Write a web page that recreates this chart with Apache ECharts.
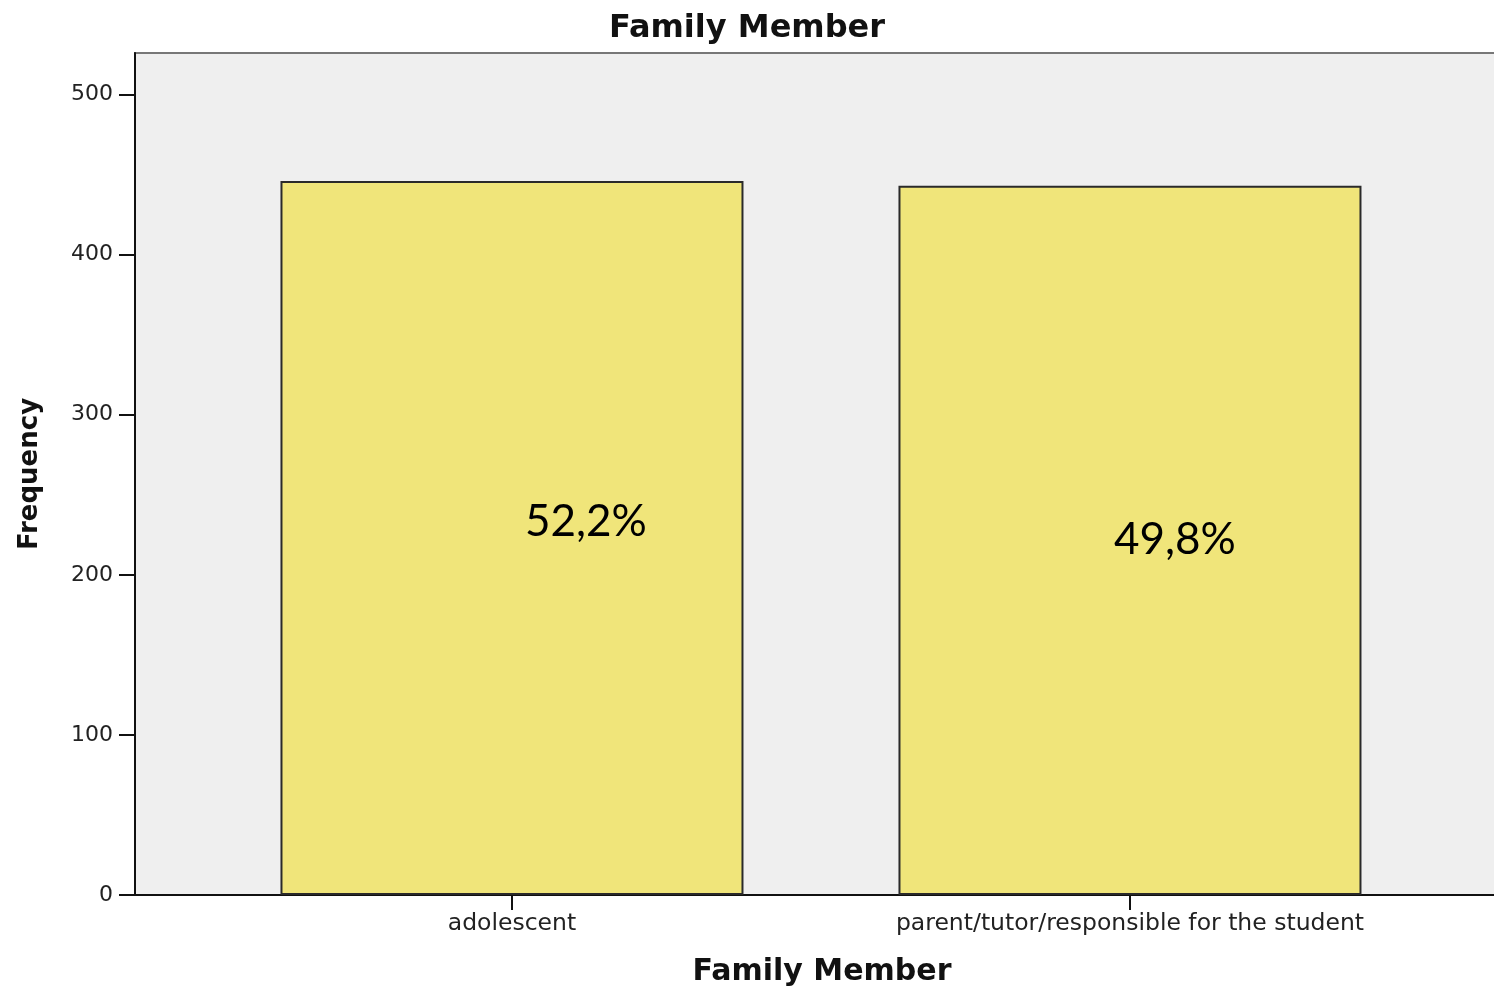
<!DOCTYPE html>
<html>
<head>
<meta charset="utf-8">
<script src="https://cdn.jsdelivr.net/npm/echarts@6/dist/echarts.min.js"></script>
<style>
  html, body { margin: 0; padding: 0; background: #fff; }
  #chart { width: 1494px; height: 989px; }
</style>
</head>
<body>
<div id="chart"></div>
<script>
// categories and counts
const categories = ['adolescent', 'parent/tutor/responsible for the student'];
const frequencies = [446, 443];
const percentLabels = ['52,2%', '49,8%'];
const yTicks = [0, 100, 200, 300, 400, 500];

// categories sit at x = 1, 2 on a value axis so the plot can start left of the first bar
const catPos = categories.map((c, i) => i + 1);
const labelOffsets = [[74, -16], [45, -1]];

const chart = echarts.init(document.getElementById('chart'));

const option = {
  backgroundColor: '#fff',
  animation: false,
  title: {
    text: 'Family Member',
    left: 'center',
    top: 8,
    textStyle: { fontFamily: 'DejaVu Sans', fontWeight: 'bold', fontSize: 32, color: '#111' }
  },
  grid: {
    left: 135,
    top: 53,
    width: 1400,
    bottom: 94,
    outerBoundsMode: 'none',
    containLabel: false,
    show: true,
    backgroundColor: '#efefef',
    borderColor: '#777',
    borderWidth: 2
  },
  xAxis: {
    type: 'value',
    min: 0.39,
    max: 0.39 + 1400 / 618,
    name: 'Family Member',
    nameLocation: 'middle',
    nameGap: 62,
    nameTextStyle: {
      fontFamily: 'DejaVu Sans', fontWeight: 'bold', fontSize: 30, color: '#111',
      padding: [0, 26, 0, 0]
    },
    splitLine: { show: false },
    axisLine: { show: true, lineStyle: { color: '#111', width: 2 } },
    axisTick: { show: true, customValues: catPos, length: 15, lineStyle: { color: '#111', width: 2 } },
    axisLabel: {
      customValues: catPos,
      margin: 17,
      fontFamily: 'DejaVu Sans',
      fontSize: 23.5,
      color: '#222',
      formatter: (v) => categories[Math.round(v) - 1] || ''
    }
  },
  yAxis: {
    type: 'value',
    min: 0,
    max: 526,
    name: 'Frequency',
    nameLocation: 'middle',
    nameGap: 92,
    nameTextStyle: { fontFamily: 'DejaVu Sans', fontWeight: 'bold', fontSize: 26, color: '#111' },
    splitLine: { show: false },
    axisLine: { show: true, lineStyle: { color: '#111', width: 2 } },
    axisTick: { show: true, customValues: yTicks, length: 16, lineStyle: { color: '#111', width: 2 } },
    axisLabel: {
      customValues: yTicks,
      margin: 22,
      fontFamily: 'DejaVu Sans',
      fontSize: 22,
      color: '#222',
      padding: [4, 0, 0, 0]
    }
  },
  series: [
    {
      type: 'bar',
      barWidth: 463,
      data: frequencies.map((v, i) => ({
        value: [catPos[i], v],
        label: { offset: labelOffsets[i] }
      })),
      itemStyle: { color: '#f0e57a', borderColor: '#2a2a2a', borderWidth: 2 },
      label: {
        show: true,
        position: 'inside',
        fontFamily: 'Lato',
        fontSize: 44,
        color: '#000',
        formatter: (p) => percentLabels[p.dataIndex]
      }
    }
  ]
};

chart.setOption(option);
</script>
</body>
</html>
